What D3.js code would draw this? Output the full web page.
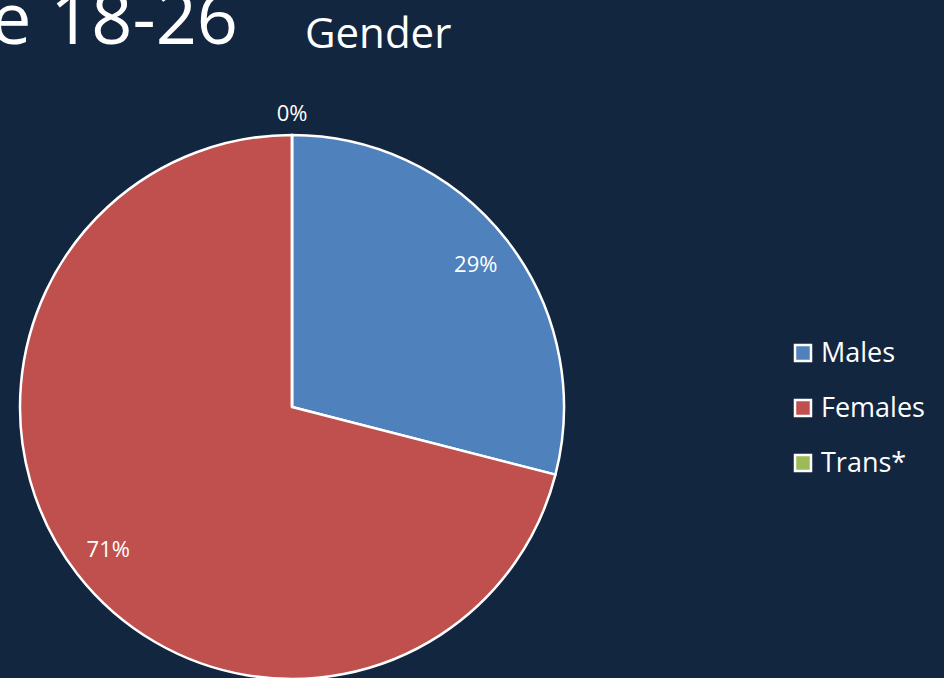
<!DOCTYPE html>
<html>
<head>
<meta charset="utf-8">
<script src="https://cdn.jsdelivr.net/npm/d3@7"></script>
<style>
  html, body { margin: 0; padding: 0; background: #13263f; }
  svg { display: block; }
</style>
</head>
<body>
<svg id="chart"></svg>
<script>
const categories = ['Males', 'Females', 'Trans*'];
const values = [29, 71, 0];
const labels = ['29%', '71%', '0%'];
const colors = ['#4f81bd', '#c0504d', '#9bbb59'];

const width = 944, height = 678;
const cx = 292, cy = 407, radius = 272;
const font = "'Open Sans', 'Liberation Sans', sans-serif";

const svg = d3.select('#chart')
    .attr('width', width)
    .attr('height', height)
    .style('background', '#13263f');

// slide title (runs off the left edge in the original) and chart title
svg.append('text')
    .attr('x', 238).attr('y', 44)
    .attr('text-anchor', 'end')
    .style('font-family', font)
    .style('font-size', '72px')
    .style('fill', '#fff')
    .text('e 18-26');

svg.append('text')
    .attr('x', 305).attr('y', 48)
    .style('font-family', font)
    .style('font-size', '42px')
    .style('fill', '#fff')
    .text('Gender');

const data = categories.map((c, i) => ({ name: c, value: values[i], label: labels[i], color: colors[i] }));

const pie = d3.pie().sort(null).value(d => d.value);
const arcs = pie(data);
const arc = d3.arc().innerRadius(0).outerRadius(radius);

const g = svg.append('g').attr('transform', `translate(${cx}, ${cy})`);

g.selectAll('path')
    .data(arcs)
    .join('path')
    .attr('d', arc)
    .attr('fill', d => d.data.color)
    .attr('stroke', '#fff')
    .attr('stroke-width', 2.5)
    .attr('stroke-linejoin', 'round');

// data labels, zero slice sits above the pie
const labelArc = d3.arc().innerRadius(radius * 0.855).outerRadius(radius * 0.855);
g.selectAll('text.lbl')
    .data(arcs)
    .join('text')
    .attr('class', 'lbl')
    .attr('transform', d => {
        if (d.data.value === 0) return `translate(0, ${-radius - 22})`;
        const [x, y] = labelArc.centroid(d);
        return `translate(${x}, ${y})`;
    })
    .attr('text-anchor', 'middle')
    .attr('dy', '0.35em')
    .style('font-family', font)
    .style('font-size', '22px')
    .style('fill', '#fff')
    .text(d => d.data.label);

// legend
const legend = svg.append('g').attr('transform', 'translate(795, 353)');
const rows = legend.selectAll('g')
    .data(data)
    .join('g')
    .attr('transform', (d, i) => `translate(0, ${i * 55})`);
rows.append('rect')
    .attr('x', 0).attr('y', -8)
    .attr('width', 16).attr('height', 16)
    .attr('fill', d => d.color)
    .attr('stroke', '#fff')
    .attr('stroke-width', 2.5);
rows.append('text')
    .attr('x', 26).attr('y', 0)
    .attr('dy', '0.35em')
    .style('font-family', font)
    .style('font-size', '27px')
    .style('fill', '#fff')
    .text(d => d.name);
</script>
</body>
</html>
